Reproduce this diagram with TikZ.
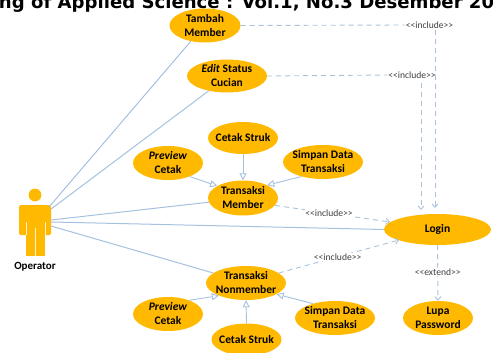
\documentclass[tikz,border=0pt]{standalone}
\usepackage{fontspec}
\setmainfont{Carlito}
\newfontfamily\titlefont{DejaVu Sans}
\usetikzlibrary{shapes.geometric,arrows.meta}
\definecolor{uc}{HTML}{FFB900}
\definecolor{ln}{HTML}{A6C0DF}
\definecolor{dl}{HTML}{A9C2DC}
\newcommand{\inclabel}{<{}<include>{}>}
\newcommand{\extlabel}{<{}<extend>{}>}
\tikzset{
  usecase/.style={ellipse,fill=uc,inner sep=-9pt,align=center,text=black,
    font=\fontsize{11.5}{14}\selectfont\bfseries},
  assoc/.style={draw=ln,line width=1pt},
  gen/.style={draw=ln,line width=0.9pt,-{Triangle[open,length=7pt,width=7pt,fill=white]}},
  dep/.style={draw=dl,line width=0.9pt,dash pattern=on 5pt off 4pt},
  deparrow/.style={dep,-{Straight Barb[length=3.5pt,width=6pt]}},
  stereo/.style={fill=white,inner sep=0.6pt,text=black!75,font=\fontsize{9.6}{11}\selectfont},
  actorpart/.style={fill=uc,draw=none},
  seam/.style={draw=white!80!uc,line width=0.5pt},
}
\begin{document}
\begin{tikzpicture}[x=1pt,y=-1pt]
\useasboundingbox (0,0) rectangle (493,353);
\clip (0,0) rectangle (493,353);
\node[anchor=base,inner sep=0,font=\titlefont\bfseries\fontsize{18.1}{20}\selectfont] (title) at (237,8.5) {ning of Applied Science : Vol.1, No.3 Desember 20};
% actor
\fill[actorpart] (35,195) circle (6.4);
\fill[actorpart,rounded corners=1.5pt] (19,205) rectangle (51,235);
\fill[actorpart] (26,230) rectangle (45,255.5);
\draw[seam] (26,222) -- (26,235);
\draw[seam] (45,222) -- (45,235);
\draw[seam] (35.3,228) -- (35.3,255.5);
\node[font=\fontsize{11}{12}\selectfont\bfseries,inner sep=0] (oplabel) at (35,266.5) {Operator};
\coordinate (a1) at (49,207);
\coordinate (a2) at (51,209);
\coordinate (a3) at (51,220);
\coordinate (a4) at (51,222);
\coordinate (a5) at (51,226);
% use cases
\node[usecase,minimum width=71pt,minimum height=34pt] (tambah) at (205,25.5) {Tambah\\Member};
\node[usecase,minimum width=80pt,minimum height=33pt] (edit) at (227,76) {\textit{Edit} Status\\Cucian};
\node[usecase,minimum width=70pt,minimum height=32pt] (struk1) at (243,138) {Cetak Struk};
\node[usecase,minimum width=70pt,minimum height=34pt] (prev1) at (168,163) {\textit{Preview}\\Cetak};
\node[usecase,minimum width=80pt,minimum height=34pt] (simpan1) at (323,162) {Simpan Data\\Transaksi};
\node[usecase,minimum width=70pt,minimum height=35pt] (member) at (243,198) {Transaksi\\Member};
\node[usecase,minimum width=107pt,minimum height=31pt] (login) at (437.5,229.5) {Login};
\node[usecase,minimum width=80pt,minimum height=34pt] (nonmember) at (246,283) {Transaksi\\Nonmember};
\node[usecase,minimum width=70pt,minimum height=34pt] (prev2) at (168,314) {\textit{Preview}\\Cetak};
\node[usecase,minimum width=70pt,minimum height=32pt] (struk2) at (246.5,339.5) {Cetak Struk};
\node[usecase,minimum width=80pt,minimum height=34pt] (simpan2) at (335,318) {Simpan Data\\Transaksi};
\node[usecase,minimum width=70pt,minimum height=34pt] (lupa) at (438,318) {Lupa\\Password};
% associations
\draw[assoc] (a1) -- (tambah.228);
\draw[assoc] (a2) -- (edit.219);
\draw[assoc] (a3) -- (member.187);
\draw[assoc] (a4) -- (login.west);
\draw[assoc] (a5) -- (nonmember.163);
% generalisations
\draw[gen] (struk1.south) -- (member.north);
\draw[gen] (prev1.-32) -- (member.155);
\draw[gen] (simpan1.214) -- (member.28);
\draw[gen] (prev2.33) -- (nonmember.205);
\draw[gen] (struk2.north) -- (nonmember.south);
\draw[gen] (simpan2.147) -- (nonmember.-20);
% dependencies
\node[stereo] (inc1) at (429.5,25) {\inclabel};
\node[stereo] (inc2) at (412,75) {\inclabel};
\coordinate (c1) at (435,30);
\coordinate (c2) at (421,83);
\coordinate (t1) at (435,208);
\coordinate (t2) at (421,210);
\coordinate (t3) at (390,222);
\coordinate (t4) at (399,240);
\draw[dep] (tambah.east) -- (inc1.west);
\draw[dep] (edit.east) -- (inc2.west);
\draw[deparrow] (c1) -- (t1);
\draw[deparrow] (c2) -- (t2);
\draw[deparrow] (member.-13) -- node[stereo,pos=0.47] (inc3) {\inclabel} (t3);
\draw[deparrow] (nonmember.17) -- node[stereo,pos=0.49] (inc4) {\inclabel} (t4);
\draw[deparrow] (login.south) -- node[stereo,pos=0.48] (ext) {\extlabel} (lupa.north);
\end{tikzpicture}
\end{document}
